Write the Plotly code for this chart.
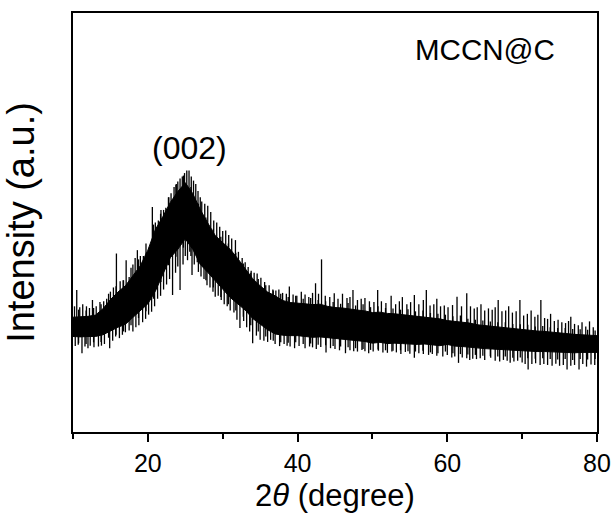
import plotly.graph_objects as go

# Dense core of the noisy XRD band (read at 1 degree steps), arbitrary intensity units
two_theta = list(range(10, 81))
band_top = [274, 275, 276, 279, 294, 316, 334, 349, 374, 397, 434, 483, 514, 548, 574, 595,
            569, 531, 499, 469, 452, 436, 414, 389, 366, 349, 334, 325, 314, 309, 308,
            306, 304, 305, 300, 297, 296, 293, 291, 289, 285, 286, 283, 282, 280, 278,
            277, 275, 273, 270, 266, 264, 262, 260, 256, 254, 252, 250, 249, 247, 245,
            243, 241, 240, 238, 236, 234, 233, 232, 231, 230]
band_bot = [228, 227, 228, 228, 232, 242, 250, 257, 274, 290, 306, 336, 376, 416, 436, 461,
            436, 400, 381, 362, 341, 321, 306, 291, 271, 257, 244, 234, 231, 230, 230,
            228, 226, 227, 225, 223, 222, 220, 218, 216, 212, 214, 211, 212, 211, 210,
            209, 210, 208, 206, 209, 205, 204, 202, 201, 199, 198, 197, 196, 194, 194,
            193, 192, 192, 191, 190, 190, 189, 190, 190, 190]

# Individual noise spikes above the band (position, tip intensity)
spike_up_x = [10.2, 10.5, 10.9, 11.3, 11.8, 12.2, 12.6, 13.1, 13.6, 14.1, 14.5, 15.0, 15.4, 15.8, 16.3,
              16.7, 17.1, 17.5, 18.0, 18.3, 18.6, 19.0, 19.4, 19.8, 20.2, 20.6, 21.0, 21.4, 21.7, 22.1,
              22.4, 22.8, 23.1, 23.5, 23.8, 24.0, 24.3, 24.6, 24.9, 25.2, 25.5, 25.8, 26.1, 26.4, 26.7,
              27.0, 27.2, 27.6, 28.0, 28.4, 28.8, 29.2, 29.6, 30.0, 30.4, 30.8, 31.2, 31.7, 32.1, 32.6,
              33.0, 33.4, 33.8, 34.2, 34.6, 35.1, 35.6, 36.2, 36.7, 37.1, 37.5, 38.0, 38.5, 38.9, 39.4,
              39.9, 40.5, 41.0, 41.5, 42.0, 42.4, 42.8, 43.2, 43.7, 44.3, 44.9, 45.4, 46.0, 46.6, 47.0,
              47.4, 48.0, 48.5, 49.0, 49.6, 50.2, 50.7, 51.2, 51.8, 52.5, 53.1, 53.6, 54.0, 54.6, 55.1,
              55.6, 56.2, 56.8, 57.2, 57.7, 58.2, 58.6, 59.1, 59.6, 60.1, 60.7, 61.3, 61.9, 62.6, 63.1,
              63.6, 64.0, 64.5, 65.0, 65.5, 66.0, 66.4, 66.8, 67.3, 67.8, 68.2, 68.7, 69.2, 69.7, 70.2,
              70.7, 71.2, 71.7, 72.1, 72.5, 73.0, 73.4, 73.8, 74.3, 74.8, 75.3, 75.8, 76.2, 76.5, 77.0,
              77.5, 78.0, 78.5, 79.0, 79.5]
spike_up_y = [300, 339, 298, 305, 300, 296, 315, 300, 310, 312, 318, 335, 345, 426, 360,
              362, 410, 370, 400, 415, 434, 420, 420, 428, 440, 537, 500, 505, 521, 530,
              535, 560, 570, 585, 592, 598, 605, 610, 618, 624, 624, 610, 600, 592, 575,
              560, 550, 545, 540, 525, 505, 500, 490, 480, 481, 470, 462, 458, 430, 415,
              405, 394, 385, 380, 378, 368, 358, 350, 340, 338, 340, 332, 330, 347, 328,
              325, 335, 328, 322, 332, 355, 330, 412, 325, 322, 331, 318, 330, 320, 322,
              339, 315, 318, 320, 312, 310, 339, 312, 308, 325, 305, 312, 322, 305, 310,
              327, 305, 315, 339, 302, 305, 318, 300, 302, 298, 303, 323, 300, 331, 300,
              295, 298, 305, 290, 295, 292, 298, 315, 288, 290, 300, 285, 288, 315, 278,
              282, 290, 275, 280, 315, 272, 270, 282, 265, 268, 262, 260, 265, 275, 258,
              255, 262, 252, 264, 250]

# Individual noise spikes below the band (position, tip intensity)
spike_dn_x = [10.3, 10.7, 11.2, 11.6, 12.0, 12.3, 12.8, 13.4, 13.8, 14.2, 14.9, 15.3, 15.7, 16.2, 16.6,
              17.0, 17.5, 18.0, 18.4, 18.8, 19.3, 19.7, 20.1, 20.5, 20.9, 21.3, 21.7, 22.1, 22.5, 22.9,
              23.3, 23.7, 24.0, 24.3, 24.7, 25.0, 25.3, 25.6, 25.9, 26.2, 26.6, 27.1, 27.5, 27.9, 28.3,
              28.7, 29.0, 29.4, 29.8, 30.2, 30.6, 31.0, 31.5, 31.9, 32.3, 32.8, 33.2, 33.6, 34.0, 34.5,
              35.0, 35.5, 36.0, 36.4, 37.0, 37.6, 38.2, 38.6, 39.0, 39.6, 40.2, 41.0, 41.6, 42.0, 42.5,
              43.1, 43.8, 44.4, 45.0, 45.6, 46.4, 47.0, 47.5, 48.0, 48.6, 49.0, 49.5, 50.1, 50.8, 51.4,
              52.0, 52.6, 53.2, 53.8, 54.4, 55.0, 55.6, 56.2, 56.8, 57.5, 58.0, 58.6, 59.4, 60.0, 60.6,
              61.0, 61.5, 62.0, 62.6, 63.0, 63.4, 63.9, 64.4, 65.0, 65.8, 66.4, 67.0, 67.5, 68.0, 68.4,
              68.9, 69.4, 70.0, 70.4, 70.8, 71.3, 71.8, 72.4, 72.9, 73.4, 74.0, 74.5, 75.0, 75.5, 76.0,
              76.5, 77.0, 77.6, 78.1, 78.6, 79.2, 79.7]
spike_dn_y = [205, 208, 188, 204, 200, 206, 202, 204, 206, 210, 200, 218, 228, 224, 232,
              238, 242, 240, 250, 255, 262, 270, 280, 287, 300, 318, 325, 340, 352, 365,
              327, 380, 395, 339, 400, 420, 410, 430, 375, 400, 405, 371, 365, 350, 345,
              335, 323, 325, 315, 305, 300, 290, 285, 268, 248, 265, 250, 240, 212, 230,
              220, 218, 215, 220, 210, 205, 210, 206, 204, 200, 205, 200, 204, 202, 198,
              203, 190, 200, 198, 195, 188, 195, 193, 192, 196, 193, 188, 192, 194, 190,
              189, 192, 190, 186, 191, 187, 177, 188, 186, 184, 186, 182, 180, 184, 178,
              180, 165, 178, 176, 172, 175, 174, 176, 172, 177, 170, 168, 172, 170, 165,
              168, 170, 166, 162, 149, 162, 164, 160, 162, 160, 158, 163, 158, 160, 149,
              158, 160, 149, 162, 156, 161, 160]

# Shorter noise excursions at the band edges (one pair per degree)
minor_x = [10.75, 11.75, 12.75, 13.75, 14.75, 15.75, 16.75, 17.75, 18.75, 19.75,
           20.75, 21.75, 22.75, 23.75, 24.75, 25.75, 26.75, 27.75, 28.75, 29.75,
           30.75, 31.75, 32.75, 33.75, 34.75, 35.75, 36.75, 37.75, 38.75, 39.75,
           40.75, 41.75, 42.75, 43.75, 44.75, 45.75, 46.75, 47.75, 48.75, 49.75,
           50.75, 51.75, 52.75, 53.75, 54.75, 55.75, 56.75, 57.75, 58.75, 59.75,
           60.75, 61.75, 62.75, 63.75, 64.75, 65.75, 66.75, 67.75, 68.75, 69.75,
           70.75, 71.75, 72.75, 73.75, 74.75, 75.75, 76.75, 77.75, 78.75, 79.75]
minor_up = [292, 290, 296, 305, 330, 348, 362, 392, 412, 450, 495, 530, 560, 590, 612, 585, 545, 512, 485, 466,
            450, 428, 402, 380, 365, 350, 338, 330, 322, 325, 318, 320, 315, 312, 310, 306, 308, 302, 305, 298,
            300, 296, 295, 292, 293, 288, 290, 284, 282, 280, 276, 278, 270, 268, 266, 264, 262, 262, 258, 257,
            256, 252, 253, 250, 248, 248, 246, 245, 244, 242]
minor_dn = [212, 210, 214, 215, 225, 232, 240, 255, 272, 288, 318, 358, 398, 418, 440, 420, 382, 362, 345, 322,
            305, 290, 275, 255, 240, 228, 218, 214, 213, 214, 210, 211, 208, 207, 205, 204, 202, 200, 198, 196,
            197, 195, 194, 195, 193, 192, 194, 190, 188, 192, 188, 186, 185, 184, 182, 181, 180, 180, 177, 178,
            176, 175, 176, 174, 173, 174, 172, 174, 173, 174]

fig = go.Figure()

# lower core edge then upper core edge filled in black
fig.add_trace(go.Scatter(x=two_theta, y=band_bot, mode="lines", line=dict(color="black", width=1),
                         showlegend=False, hoverinfo="skip"))
fig.add_trace(go.Scatter(x=two_theta, y=band_top, mode="lines", line=dict(color="black", width=1),
                         fill="tonexty", fillcolor="black", showlegend=False, hoverinfo="skip"))


def mid_at(x):
    i = int(x) - 10
    i = max(0, min(i, len(two_theta) - 1))
    return (band_top[i] + band_bot[i]) / 2


sx, sy = [], []
for x, y in zip(spike_up_x, spike_up_y):
    sx += [x, x, None]
    sy += [mid_at(x), y, None]
for x, y in zip(spike_dn_x, spike_dn_y):
    sx += [x, x, None]
    sy += [mid_at(x), y, None]
for x, yu, yd in zip(minor_x, minor_up, minor_dn):
    sx += [x, x, None]
    sy += [yd, yu, None]
fig.add_trace(go.Scatter(x=sx, y=sy, mode="lines", line=dict(color="black", width=1.3),
                         showlegend=False, hoverinfo="skip"))

font_family = "Liberation Sans, Arial, sans-serif"

fig.update_layout(
    template="none",
    width=614, height=517,
    margin=dict(l=73, r=17, t=13, b=85),
    paper_bgcolor="white", plot_bgcolor="white",
    font=dict(family=font_family, color="black", size=25),
    xaxis=dict(range=[10, 80], showgrid=False, zeroline=False, automargin=False,
               showline=True, linecolor="black", linewidth=2, mirror=True,
               ticks="outside", tickvals=[20, 40, 60, 80], ticklen=8, tickwidth=2, tickcolor="black",
               minor=dict(tickvals=[10, 30, 50, 70], ticks="outside", ticklen=5, tickwidth=2, tickcolor="black"),
               tickfont=dict(size=25),
               title=dict(text="2<i>θ</i> (degree)", font=dict(size=31), standoff=8)),
    yaxis=dict(range=[0, 1000], showgrid=False, zeroline=False, automargin=False,
               showline=True, linecolor="black", linewidth=2, mirror=True,
               showticklabels=False, ticks="",
               title=dict(text="Intensity (a.u.)", font=dict(size=38), standoff=26)),
    annotations=[
        dict(text="MCCN@C", x=0.786, y=0.912, xref="paper", yref="paper", showarrow=False,
             font=dict(size=29.5), xanchor="center", yanchor="middle"),
        dict(text="(002)", x=25.6, y=678, xref="x", yref="y", showarrow=False,
             font=dict(size=32), xanchor="center", yanchor="middle"),
    ],
)

fig.write_html("out.html")
